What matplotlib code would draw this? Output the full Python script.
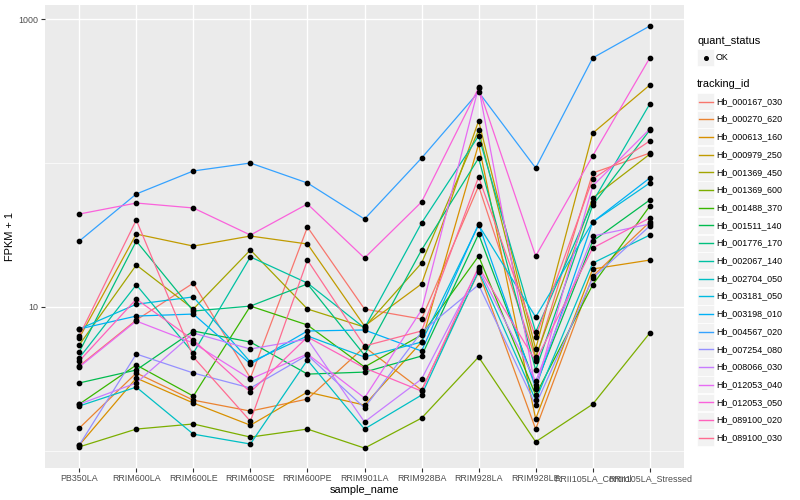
import matplotlib
matplotlib.use('Agg')
import matplotlib.pyplot as plt
from matplotlib.lines import Line2D
from matplotlib.patches import Rectangle
from matplotlib.ticker import FixedLocator, NullFormatter

plt.rcParams['font.family'] = ['Liberation Sans', 'DejaVu Sans']

samples = ["PB350LA", "RRIM600LA", "RRIM600LE", "RRIM600SE", "RRIM600PE", "RRIM901LA",
           "RRIM928BA", "RRIM928LA", "RRIM928LE", "RRII105LA_Control", "RRII105LA_Stressed"]

tracking_ids = ["Hb_000167_030", "Hb_000270_620", "Hb_000613_160", "Hb_000979_250",
                "Hb_001369_450", "Hb_001369_600", "Hb_001488_370", "Hb_001511_140",
                "Hb_001776_170", "Hb_002067_140", "Hb_002704_050", "Hb_003181_050",
                "Hb_003198_010", "Hb_004567_020", "Hb_007254_080", "Hb_008066_030",
                "Hb_012053_040", "Hb_012053_050", "Hb_089100_020", "Hb_089100_030"]

colors = ["#F8766D", "#EA8331", "#D89000", "#C09B00", "#A3A500", "#7CAE00", "#39B600",
          "#00BB4E", "#00BF7D", "#00C1A3", "#00BFC4", "#00BAE0", "#00B0F6", "#35A2FF",
          "#9590FF", "#C77CFF", "#E76BF3", "#FA62DB", "#FF62BC", "#FF6C91"]

# FPKM + 1 per sample
hb_000167_030 = [3.87, 8.08, 14.6, 3.19, 35.8, 9.64, 8.21, 69.1, 4.33, 85.1, 117]
hb_000270_620 = [1.43, 3.46, 2.24, 1.88, 2.28, 5.25, 2.63, 17.4, 1.41, 16.3, 38.8]
hb_000613_160 = [1.09, 3.19, 2.14, 1.50, 2.55, 2.07, 5.68, 135, 1.66, 18.3, 21.1]
hb_000979_250 = [6.06, 32.0, 26.4, 31.0, 27.3, 7.34, 14.4, 196, 5.08, 161, 348]
hb_001369_450 = [5.42, 19.5, 9.64, 24.8, 9.64, 7.22, 20.1, 169, 4.47, 57.0, 115]
hb_001369_600 = [1.06, 1.41, 1.53, 1.24, 1.41, 1.04, 1.68, 4.47, 1.15, 2.10, 6.56]
hb_001488_370 = [2.10, 3.93, 2.39, 10.1, 7.46, 3.81, 6.36, 22.5, 2.43, 14.2, 50.1]
hb_001511_140 = [2.95, 3.63, 6.78, 5.68, 3.40, 3.51, 4.54, 32.0, 2.85, 28.6, 55.2]
hb_001776_170 = [4.84, 28.6, 9.33, 10.1, 14.4, 4.61, 24.8, 108, 3.63, 50.9, 169]
hb_002067_140 = [4.40, 14.2, 4.76, 22.2, 14.6, 7.11, 38.2, 154, 6.67, 53.5, 257]
hb_002704_050 = [2.04, 2.76, 1.30, 1.11, 4.26, 1.41, 2.43, 17.7, 2.24, 20.1, 31.5]
hb_003181_050 = [7.00, 10.4, 11.7, 4.12, 6.26, 4.47, 5.68, 37.0, 8.48, 38.8, 72.5]
hb_003198_010 = [7.00, 8.61, 8.89, 4.00, 6.78, 6.89, 4.92, 37.6, 2.72, 38.8, 78.5]
hb_004567_020 = [28.6, 60.8, 87.9, 99.8, 72.5, 40.7, 108, 311, 92.2, 537, 895]
hb_007254_080 = [1.09, 4.69, 3.46, 2.72, 4.61, 1.98, 6.67, 14.2, 2.07, 15.8, 36.4]
hb_008066_030 = [2.10, 2.95, 6.56, 5.08, 5.96, 1.58, 3.14, 18.3, 3.04, 31.0, 37.6]
hb_012053_040 = [3.81, 7.95, 5.59, 3.14, 4.69, 2.32, 9.49, 337, 2.68, 69.1, 172]
hb_012053_050 = [44.1, 52.6, 48.6, 31.5, 51.8, 21.8, 53.5, 332, 22.5, 112, 537]
hb_089100_020 = [4.19, 11.3, 5.87, 2.55, 6.16, 3.75, 2.59, 18.9, 4.19, 25.6, 41.4]
hb_089100_030 = [6.26, 40.1, 4.47, 1.60, 21.1, 5.33, 6.78, 79.8, 6.16, 77.3, 142]

series = [hb_000167_030, hb_000270_620, hb_000613_160, hb_000979_250, hb_001369_450,
          hb_001369_600, hb_001488_370, hb_001511_140, hb_001776_170, hb_002067_140,
          hb_002704_050, hb_003181_050, hb_003198_010, hb_004567_020, hb_007254_080,
          hb_008066_030, hb_012053_040, hb_012053_050, hb_089100_020, hb_089100_030]

W, H = 800, 500
fig = plt.figure(figsize=(8, 5), dpi=100)
L, R, T, B = 45, 684, 5, 468
ax = fig.add_axes([L / W, 1 - B / H, (R - L) / W, (B - T) / H])
ax.set_facecolor('#EBEBEB')
for s in ax.spines.values():
    s.set_visible(False)

xs = list(range(len(samples)))
for vals, c in zip(series, colors):
    ax.plot(xs, vals, color=c, lw=0.9, zorder=3)
for vals in series:
    ax.plot(xs, vals, linestyle='none', marker='o', ms=3.1, color='black', zorder=4)

ax.set_yscale('log')
ax.set_ylim(0.756, 1253)
ax.set_xlim(-0.6, len(samples) - 1 + 0.6)
ax.yaxis.set_major_locator(FixedLocator([10, 1000]))
ax.set_yticklabels(['10', '1000'])
ax.yaxis.set_minor_locator(FixedLocator([1, 100]))
ax.yaxis.set_minor_formatter(NullFormatter())
ax.set_xticks(xs)
ax.set_xticklabels(samples)
ax.tick_params(which='major', length=2.7, width=0.8, color='#333333',
               labelcolor='#4D4D4D', labelsize=6.4, pad=1.8)
ax.tick_params(which='minor', length=0)
ax.grid(which='major', color='white', lw=1.0, zorder=0)
ax.grid(which='minor', axis='y', color='white', lw=0.5, zorder=0)
ax.set_axisbelow(True)

ax.set_xlabel('sample_name', fontsize=7.9, color='black', labelpad=1)
ax.set_ylabel('FPKM + 1', fontsize=7.9, color='black', labelpad=3)

# Legend (drawn manually, ggplot style)
def fx(px):
    return px / W

def fy(py):
    return 1 - py / H

fig.text(fx(697), fy(41), 'quant_status', fontsize=7.9, va='center', ha='left')
fig.patches.append(Rectangle((fx(697), fy(66)), 17 / W, 17 / H, transform=fig.transFigure,
                             facecolor='#F2F2F2', edgecolor='white', lw=0.5))
fig.lines.append(Line2D([fx(705.5)], [fy(57.5)], marker='o', ms=2.6, color='black',
                        transform=fig.transFigure))
fig.text(fx(716), fy(57.5), 'OK', fontsize=6.4, va='center', ha='left')

fig.text(fx(697), fy(84), 'tracking_id', fontsize=7.9, va='center', ha='left')
step = 17.7
for i, (tid, c) in enumerate(zip(tracking_ids, colors)):
    yc = 101.5 + i * step
    fig.patches.append(Rectangle((fx(697), fy(yc + 8.6)), 17 / W, 17.2 / H,
                                 transform=fig.transFigure, facecolor='#F2F2F2',
                                 edgecolor='white', lw=0.5))
    fig.lines.append(Line2D([fx(698.5), fx(712.5)], [fy(yc), fy(yc)], color=c, lw=1.0,
                            transform=fig.transFigure))
    fig.text(fx(716), fy(yc), tid, fontsize=6.4, va='center', ha='left')

fig.savefig('out.png', dpi=100, facecolor='white')
